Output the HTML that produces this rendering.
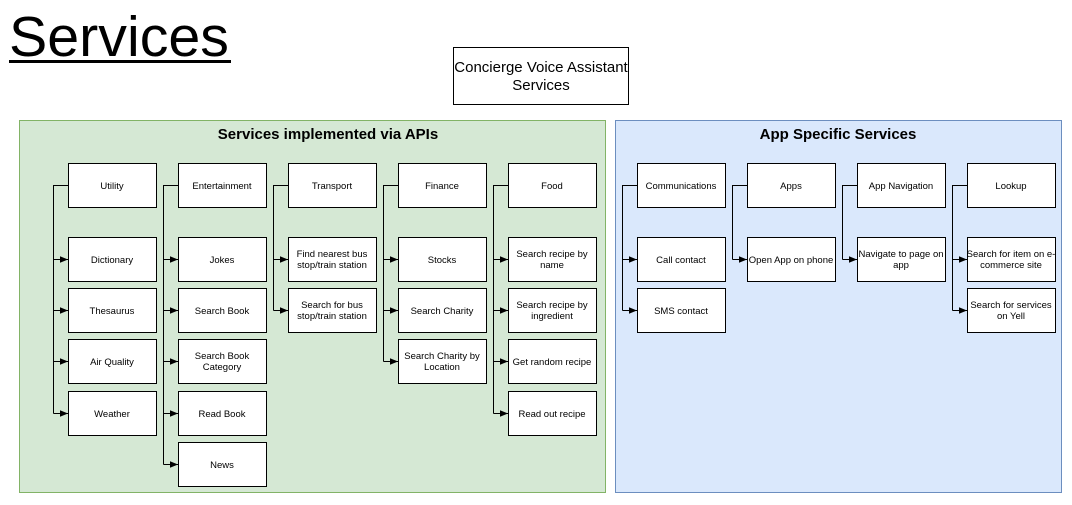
<!DOCTYPE html>
<html><head><style>
body{margin:0;width:1072px;height:500px;background:#fff;overflow:hidden;font-family:"Liberation Sans",Arial,sans-serif}
</style></head><body>
<svg width="1072" height="500" xmlns="http://www.w3.org/2000/svg" font-family="Liberation Sans, Arial, sans-serif">
<defs><marker id="a" viewBox="0 0 10 10" refX="10" refY="5" markerWidth="8" markerHeight="8" markerUnits="userSpaceOnUse" orient="auto"><path d="M0,1 L10,5 L0,9 z" fill="#000"/></marker></defs>
<text x="9" y="56" font-size="57" fill="#000" textLength="220" lengthAdjust="spacingAndGlyphs">Services</text>
<rect x="9" y="60" width="222" height="3" fill="#000"/>
<rect x="453.5" y="47.5" width="175" height="57" fill="#fff" stroke="#000"/>
<text x="541" y="72" font-size="15" text-anchor="middle">Concierge Voice Assistant</text>
<text x="541" y="90" font-size="15" text-anchor="middle">Services</text>
<rect x="19.5" y="120.5" width="586" height="372" fill="#d5e8d4" stroke="#82b366"/>
<rect x="615.5" y="120.5" width="446" height="372" fill="#dae8fc" stroke="#6c8ebf"/>
<text x="328" y="139" font-size="15" font-weight="bold" text-anchor="middle">Services implemented via APIs</text>
<text x="838" y="139" font-size="15" font-weight="bold" text-anchor="middle">App Specific Services</text>
<g id="g"></g>
</svg>
<script>
var cols=[[68,["Utility"],[["Dictionary"],["Thesaurus"],["Air Quality"],["Weather"]]],
[178,["Entertainment"],[["Jokes"],["Search Book"],["Search Book","Category"],["Read Book"],["News"]]],
[288,["Transport"],[["Find nearest bus","stop/train station"],["Search for bus","stop/train station"]]],
[398,["Finance"],[["Stocks"],["Search Charity"],["Search Charity by","Location"]]],
[508,["Food"],[["Search recipe by","name"],["Search recipe by","ingredient"],["Get random recipe"],["Read out recipe"]]],
[637,["Communications"],[["Call contact"],["SMS contact"]]],
[747,["Apps"],[["Open App on phone"]]],
[857,["App Navigation"],[["Navigate to page on","app"]]],
[967,["Lookup"],[["Search for item on e-","commerce site"],["Search for services","on Yell"]]]];
var rows=[237,288,339,391,442];var s="";
function box(x,y,t){s+='<rect x="'+(x+.5)+'" y="'+(y+.5)+'" width="88" height="44" fill="#fff" stroke="#000"/>';
if(t.length==1)s+='<text x="'+(x+44)+'" y="'+(y+26)+'" font-size="9.5" text-anchor="middle">'+t[0]+'</text>';
else{s+='<text x="'+(x+44)+'" y="'+(y+20)+'" font-size="9.5" text-anchor="middle">'+t[0]+'</text><text x="'+(x+44)+'" y="'+(y+31)+'" font-size="9.5" text-anchor="middle">'+t[1]+'</text>';}}
cols.forEach(function(c){var x=c[0],lx=x-14.5;box(x,163,c[1]);
var last=rows[c[2].length-1]+22;
s+='<path d="M'+x+',185.5 H'+lx+' V'+(last+.5)+'" fill="none" stroke="#000"/>';
c[2].forEach(function(t,i){var y=rows[i];box(x,y,t);s+='<line x1="'+lx+'" y1="'+(y+22.5)+'" x2="'+(x)+'" y2="'+(y+22.5)+'" stroke="#000" marker-end="url(#a)"/>';});});
document.getElementById("g").innerHTML=s;
</script>
</body></html>
